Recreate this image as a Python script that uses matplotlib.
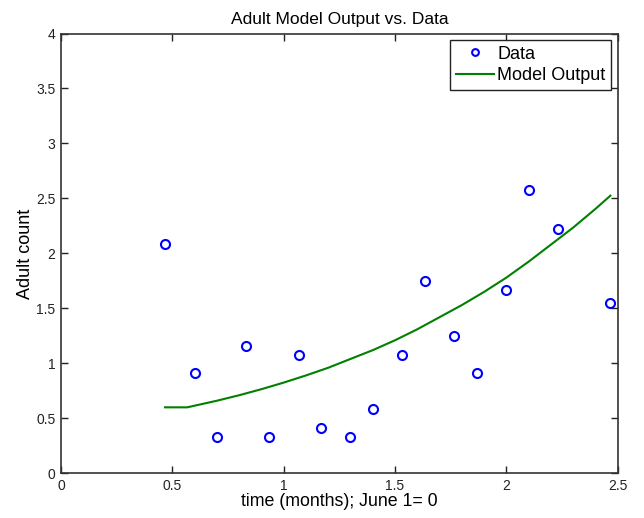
import matplotlib
matplotlib.use('Agg')
import matplotlib.pyplot as plt

plt.rcParams['font.family'] = ['Liberation Sans', 'DejaVu Sans']

# observed adult counts (time in months, June 1 = 0)
data_t = [0.467, 0.600, 0.700, 0.833, 0.933, 1.067, 1.167, 1.300, 1.400,
          1.533, 1.633, 1.767, 1.867, 2.000, 2.100, 2.233, 2.467]
data_y = [2.083, 0.912, 0.330, 1.160, 0.330, 1.080, 0.412, 0.330, 0.583,
          1.080, 1.748, 1.247, 0.913, 1.665, 2.580, 2.222, 1.552]

# model output curve
model_t = [0.467, 0.567, 0.7, 0.8, 0.9, 1.0, 1.1, 1.2, 1.3, 1.4, 1.5, 1.6,
           1.7, 1.8, 1.9, 2.0, 2.1, 2.2, 2.3, 2.4, 2.467]
model_y = [0.60, 0.60, 0.66, 0.71, 0.765, 0.825, 0.89, 0.96, 1.04, 1.12, 1.21,
           1.31, 1.42, 1.53, 1.65, 1.78, 1.925, 2.08, 2.235, 2.405, 2.525]

xticks = [0, 0.5, 1, 1.5, 2, 2.5]
yticks = [0, 0.5, 1, 1.5, 2, 2.5, 3, 3.5, 4]

fig = plt.figure(figsize=(6.44, 5.18), dpi=100)
ax = fig.add_axes([0.0947, 0.0863, 0.8645, 0.849])

ax.plot(data_t, data_y, 'o', mfc='none', mec='blue', mew=1.5, ms=6.5, label='Data')
ax.plot(model_t, model_y, '-', color=(0, 0.5, 0), lw=1.5, label='Model Output')

ax.set_xlim(0, 2.5)
ax.set_ylim(0, 4)
ax.set_xticks(xticks)
ax.set_yticks(yticks)
ax.set_xticklabels(['0', '0.5', '1', '1.5', '2', '2.5'])
ax.set_yticklabels(['0', '0.5', '1', '1.5', '2', '2.5', '3', '3.5', '4'])
ax.tick_params(direction='in', top=True, right=True, length=5, width=1,
               labelsize=10, colors='#222222', pad=4)
for s in ax.spines.values():
    s.set_linewidth(1.2)
    s.set_color('#333333')

ax.set_title('Adult Model Output vs. Data', fontsize=12.5, pad=7)
ax.set_xlabel('time (months); June 1= 0', fontsize=12.8, labelpad=0)
ax.set_ylabel('Adult count', fontsize=13, labelpad=1.5)

leg = ax.legend(loc='upper right', fontsize=13, fancybox=False, framealpha=1,
                edgecolor='#222222', borderpad=0.3, handlelength=2.1,
                handletextpad=0.2, labelspacing=0.25, borderaxespad=0.37,
                markerscale=0.75)
leg.get_frame().set_linewidth(1.0)

fig.savefig('out.png', dpi=100)
